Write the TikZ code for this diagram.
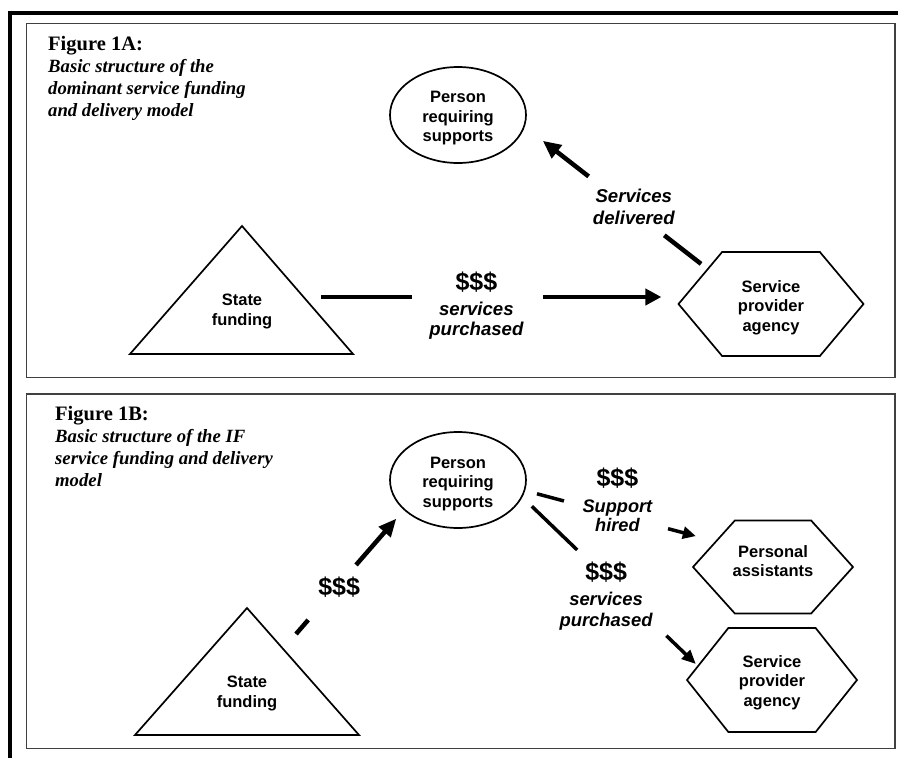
\documentclass[tikz,border=0pt]{standalone}
\usepackage{fontspec}
\setmainfont{Liberation Serif}
\newfontfamily\arialfont{Liberation Sans}
\usetikzlibrary{shapes.geometric,shapes.symbols,arrows.meta}
\newcommand\mymoney{{\upshape\fontsize{25}{25}\selectfont\$\$\$}}
\begin{document}
\begin{tikzpicture}[x=1pt,y=-1pt,
  boxtext/.style={font=\arialfont\bfseries\fontsize{16.5}{19.5}\selectfont, align=center, inner sep=0pt},
  person/.style={ellipse, draw, line width=1.7pt, minimum width=136pt, minimum height=96pt, inner sep=0pt},
  hexa/.style={signal, signal to=east and west, draw, line width=1.7pt, inner sep=0pt},
  shapeline/.style={line width=1.7pt, line join=miter},
  conn/.style={line width=4.5pt},
  connthin/.style={line width=3.5pt},
  lbl/.style={font=\arialfont\bfseries\itshape\fontsize{18.6}{20}\selectfont, align=center, inner sep=0pt},
  titletext/.style={font=\bfseries\fontsize{20.5}{22}\selectfont, inner sep=0pt},
  subtext/.style={font=\bfseries\itshape\fontsize{18.7}{22}\selectfont, align=left, inner sep=0pt},
  framebox/.style={draw=black!75, line width=1.3pt},
]
\useasboundingbox (0,0) rectangle (898,758);
\clip (0,0) rectangle (898,758);
\fill[white] (0,0) rectangle (898,758);
% outer frame
\draw[line width=3.5pt] (10,13) rectangle (930,790);
% panel boxes
\draw[framebox] (26.7,23.3) rectangle (895,377.7);
\draw[framebox] (26.7,394) rectangle (895,748.3);

% ---------- Figure 1A ----------
\node[titletext, anchor=base west] (ttlA) at (48,50) {Figure 1A:};
\node[subtext, anchor=north west] (subA) at (48,59.2) {Basic structure of the\\dominant service funding\\and delivery model};

\node[person] (eA) at (458,115) {};
\node[boxtext] (eAtext) at ([yshift=-3.5pt]eA.center) {Person\\requiring\\supports};
\node[hexa, minimum width=185pt, minimum height=104pt, signal pointer angle=100] (hA) at (771,304) {};
\node[boxtext] (hAtext) at ([yshift=-3.7pt]hA.center) {Service\\provider\\agency};
\draw[shapeline] (242,226) -- (130,354) -- (353,354) -- cycle;
\node[boxtext] (sfA) at (242,311.6) {State\\funding};
\coordinate (tA) at (321,297);

\draw[conn, -{Triangle[length=16pt,width=16pt]}, shorten >=16pt,
      dash pattern=on 91pt off 131pt on 2000pt]
  (tA) -- node[lbl, pos=.436, yshift=-8.5pt] {\mymoney\\[4.8pt]services\\purchased} (tA -| hA.west);

\draw[conn, -{Triangle[length=18pt,width=16pt]}, shorten <=7.6pt, shorten >=22.8pt,
      dash pattern=on 46.6pt off 95.9pt on 2000pt]
  (hA.151.6) -- node[lbl, pos=.418, xshift=2.9pt, yshift=2.7pt, font=\arialfont\bfseries\itshape\fontsize{18.6}{21.7}\selectfont] {Services\\delivered} (eA.-10.3);

% ---------- Figure 1B ----------
\node[titletext, anchor=base west] (ttlB) at (55,420) {Figure 1B:};
\node[subtext, anchor=north west] (subB) at (55,428.9) {Basic structure of the IF\\service funding and delivery\\model};

\node[person] (eB) at (458,480) {};
\node[boxtext] (eBtext) at ([yshift=-3.6pt]eB.center) {Person\\requiring\\supports};
\node[hexa, minimum width=160pt, minimum height=93pt, signal pointer angle=96] (hB1) at (773,567) {};
\node[boxtext] (hB1text) at ([yshift=6pt]hB1.center) {Personal\\assistants};
\node[hexa, minimum width=170pt, minimum height=104pt, signal pointer angle=103] (hB2) at (772,680) {};
\node[boxtext] (hB2text) at ([yshift=-2.6pt]hB2.center) {Service\\provider\\agency};
\draw[shapeline] (247,608) -- (135,735) -- (359,735) -- cycle;
\node[boxtext] (sfB) at (247,693.3) {State\\funding};
\coordinate (tB) at (296,634);

\draw[conn, -{Triangle[length=18pt,width=15pt]}, shorten >=11.2pt,
      dash pattern=on 18.6pt off 72.9pt on 2000pt]
  (tB) -- node[lbl, pos=.391, xshift=1pt, yshift=-1.5pt] {\mymoney} (eB.-151.1);

\draw[connthin, -{Triangle[length=13pt,width=12pt]}, shorten <=12.2pt, shorten >=19.9pt,
      dash pattern=on 27.9pt off 107.7pt on 2000pt]
  (eB.-9.3) -- node[lbl, pos=.464, xshift=4.1pt, yshift=14.3pt, font=\arialfont\bfseries\itshape\fontsize{18.2}{19.5}\selectfont] {\mymoney\\[6.5pt]Support\\hired} (hB1.156.8);

\draw[connthin, -{Triangle[length=14pt,width=12pt]}, shorten <=13pt, shorten >=2.2pt,
      dash pattern=on 63pt off 123.7pt on 2000pt]
  (eB.-15) -- node[lbl, pos=.524, xshift=-8pt, yshift=-10.5pt, font=\arialfont\bfseries\itshape\fontsize{18.4}{20.7}\selectfont] {\mymoney\\[4.3pt]services\\purchased} (hB2.169.7);
\end{tikzpicture}
\end{document}
